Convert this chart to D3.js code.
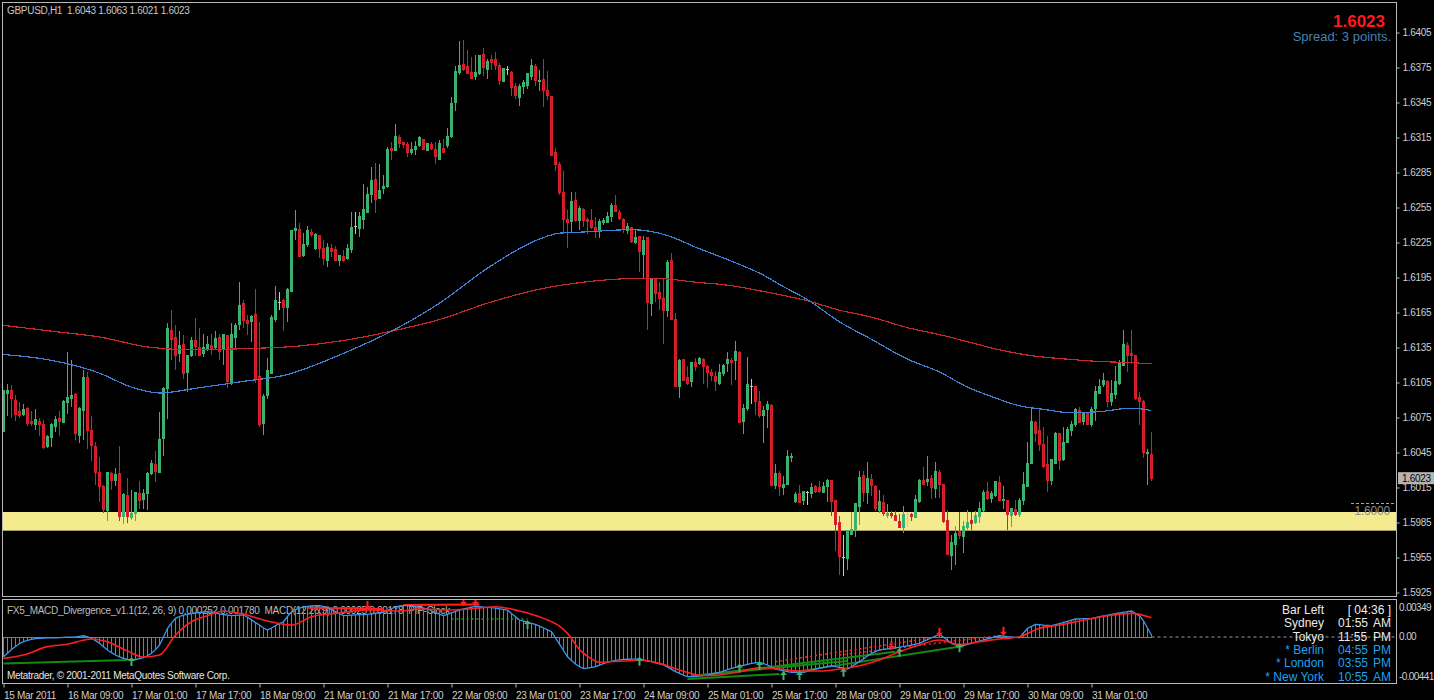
<!DOCTYPE html>
<html>
<head>
<meta charset="utf-8">
<script src="https://cdnjs.cloudflare.com/ajax/libs/d3/7.8.5/d3.min.js"></script>
<style>
  html, body { margin: 0; padding: 0; background: #000; overflow: hidden; }
  svg { display: block; }
  text { font-family: "Liberation Sans", Arial, sans-serif; }
</style>
</head>
<body>
<svg id="chart" width="1434" height="700"></svg>
<script>
// GBPUSD H1, 15 Mar 17:00 .. 31 Mar 16:00. Prices in pips above BASE.
var BASE = 1.5900;

var opens = [
  163,196,198,190,180,178,183,172,169,172,169,150,158,167,174,171,
  188,191,195,160,181,209,164,150,128,116,95,127,121,127,90,108,
  89,93,110,105,110,127,135,128,157,200,250,244,230,238,214,228,
  241,235,230,234,237,235,244,234,245,204,244,255,273,258,257,263,
  210,170,194,213,259,274,275,269,283,335,336,314,323,334,320,331,
  320,310,320,319,310,313,311,319,339,337,345,351,366,379,363,371,
  373,406,404,415,411,409,402,405,408,413,404,409,405,396,406,408,
  416,445,471,478,476,471,467,470,486,473,482,482,477,463,473,471,
  459,449,459,460,467,476,463,465,455,450,402,392,368,345,343,361,
  344,353,345,344,338,335,342,342,347,357,351,345,335,338,325,330,
  315,329,273,294,282,277,267,310,259,202,225,209,206,222,221,225,
  219,214,210,204,213,221,224,224,231,172,183,202,202,189,177,182,
  185,117,127,115,118,141,103,110,104,111,110,116,115,111,116,121,
  104,85,55,54,75,79,99,125,111,122,116,95,102,91,93,91,
  86,81,92,92,89,103,121,120,123,114,128,118,87,57,66,77,
  73,81,87,85,90,95,112,106,108,119,104,104,91,96,92,104,
  116,136,171,164,152,135,121,136,161,139,154,164,169,181,172,179,
  169,183,196,203,206,189,195,204,220,237,230,228,192,189,144,143
];
var highs = [
  199,204,203,194,188,187,184,181,182,175,173,160,170,176,181,190,
  231,224,196,184,216,214,176,154,141,117,128,128,132,151,110,123,
  113,111,121,114,128,139,146,180,201,256,267,254,249,246,228,244,
  260,252,247,245,247,249,247,246,246,256,256,291,276,263,263,285,
  257,195,226,263,288,283,277,286,336,353,342,333,339,337,333,331,
  327,325,324,322,314,319,324,351,351,351,375,373,390,393,392,383,
  407,411,427,417,411,411,411,412,416,414,410,411,411,413,414,423,
  450,476,498,499,490,484,486,486,492,482,486,488,479,475,476,472,
  462,461,464,470,482,478,473,482,472,451,406,394,386,353,368,368,
  356,355,346,354,347,345,346,351,359,366,353,346,342,338,337,331,
  331,330,294,294,291,294,310,316,265,225,225,219,223,226,227,226,
  220,217,215,221,221,231,226,241,232,187,227,208,202,198,185,189,
  187,135,129,125,147,145,111,117,112,112,119,117,121,120,122,121,
  104,91,74,79,94,102,129,129,137,127,117,113,109,101,95,95,
  92,99,94,93,109,122,133,142,126,137,130,118,96,74,82,94,
  86,96,94,95,103,113,120,112,121,125,116,104,97,104,106,128,
  154,183,172,182,167,159,139,163,162,167,167,172,183,184,180,180,
  184,202,208,213,207,207,219,224,250,240,250,228,197,190,148,163
];
var lows = [
  163,176,175,172,175,176,168,168,164,159,148,149,150,163,159,170,
  178,184,156,153,156,148,138,117,103,93,86,113,116,86,84,85,
  87,86,97,97,96,126,120,128,142,174,224,216,223,208,197,227,
  228,228,227,232,229,233,224,220,200,203,235,250,252,246,240,205,
  167,160,191,213,257,267,249,257,283,327,313,313,321,330,319,312,
  306,304,313,309,305,308,310,316,332,330,337,351,359,350,362,367,
  372,396,404,406,406,398,400,400,407,404,404,404,392,396,402,406,
  415,438,469,472,470,466,464,469,468,465,473,473,460,463,469,451,
  448,442,452,457,464,459,455,441,447,399,386,366,332,320,333,343,
  336,338,332,337,329,329,340,342,343,351,344,333,332,325,324,300,
  295,250,262,274,267,238,261,259,201,192,206,203,201,215,220,204,
  200,206,198,203,211,214,203,207,170,161,181,187,177,175,153,166,
  116,114,108,109,117,137,102,102,100,100,106,110,110,110,103,91,
  61,40,39,44,74,73,83,103,101,108,95,93,91,89,89,86,
  80,76,81,86,89,102,117,116,105,106,106,85,58,44,49,71,
  59,79,79,84,85,94,104,102,107,104,97,79,81,91,90,100,
  116,135,154,146,132,111,117,136,130,138,153,159,167,170,169,169,
  167,172,195,201,184,185,191,203,220,214,221,190,169,140,117,121
];
var closes = [
  198,198,191,178,177,182,170,170,173,169,149,159,169,173,172,189,
  192,194,161,183,209,164,151,128,116,96,128,121,126,90,109,90,
  93,111,104,110,127,136,129,156,200,251,242,228,237,213,228,241,
  236,228,235,238,233,243,232,246,206,246,254,271,258,256,262,208,
  169,193,215,261,275,274,269,285,335,337,313,323,335,332,332,320,
  311,321,317,310,314,310,320,338,339,347,353,366,378,362,370,373,
  405,404,416,410,409,402,405,407,415,405,410,406,399,410,402,416,
  444,472,477,473,470,466,471,485,475,480,479,477,464,474,473,458,
  451,459,462,470,477,464,464,455,451,400,392,368,345,342,360,344,
  354,344,343,338,335,343,344,347,357,352,346,336,339,326,329,317,
  327,274,294,281,277,267,308,259,202,224,207,204,222,219,226,219,
  214,211,206,214,220,225,222,232,171,183,203,202,189,177,181,186,
  117,127,116,118,142,142,109,102,112,111,115,112,112,116,121,103,
  83,56,55,78,79,101,124,111,123,117,97,103,93,93,91,87,
  81,92,92,90,105,121,118,122,115,129,118,86,58,68,76,74,
  82,85,84,91,97,111,106,110,120,104,105,92,97,92,104,118,
  136,172,161,152,133,121,139,161,138,154,165,169,182,171,179,169,
  182,197,202,207,189,196,206,221,238,228,228,191,189,145,145,123
];

// moving averages: [bar index, price]
var blueMA = [[0,1.6129],[12,1.6124],[24,1.6113],[32,1.6101],[39,1.6096],[48,1.6100],[60,1.6106],
  [70,1.6111],[85,1.6130],[97,1.6149],[109,1.6173],[121,1.6203],[134,1.6228],[139,1.6233],[145,1.6234],
  [157,1.6236],[166,1.6231],[173,1.6221],[182,1.6209],[190,1.6197],[194,1.6189],[201,1.6176],[209,1.6157],
  [217,1.6142],[226,1.6125],[234,1.6114],[241,1.6101],[247,1.6093],[254,1.6085],[260,1.6082],[267,1.6079],
  [274,1.6080],[282,1.6083],[287,1.6081]];
var redMA = [[0,1.6154],[12,1.6149],[24,1.6144],[37,1.6135],[48,1.6133],[60,1.6134],[73,1.6136],
  [85,1.6141],[97,1.6149],[109,1.6159],[121,1.6173],[134,1.6185],[145,1.6191],[157,1.6194],[164,1.6194],
  [173,1.6191],[182,1.6188],[190,1.6183],[193,1.6181],[201,1.6175],[209,1.6167],[217,1.6161],[226,1.6152],
  [234,1.6146],[241,1.6140],[249,1.6133],[257,1.6128],[266,1.6125],[274,1.6123],[282,1.6122],[287,1.6121]];

// MACD main per bar, in 0.00001
var macd = [
  -219,-180,-140,-105,-75,-52,-38,-27,-19,-14,-12,-10,-9,-8,-6,-4,
  -2,-1,0,7,14,2,-14,-40,-70,-108,-144,-174,-200,-220,-237,-248,
  -256,-250,-241,-230,-208,-181,-140,-89,0,97,155,208,228,244,252,260,
  268,274,278,281,276,268,258,250,243,237,240,243,244,220,190,160,
  133,100,78,100,125,148,170,228,281,305,322,334,340,345,348,349,
  338,326,305,282,258,237,240,244,247,249,250,252,258,264,270,274,
  295,315,332,345,348,349,349,338,328,320,311,292,272,255,237,252,
  268,285,300,312,322,332,340,336,332,329,326,320,313,306,300,262,
  225,189,176,164,152,141,120,100,80,59,-10,-80,-150,-219,-260,-300,
  -330,-350,-345,-338,-330,-312,-296,-280,-270,-260,-254,-248,-247,-246,-245,-244,
  -254,-264,-274,-286,-298,-311,-335,-360,-385,-405,-425,-441,-440,-438,-433,-428,
  -422,-412,-402,-393,-378,-363,-348,-337,-326,-315,-304,-293,-287,-281,-296,-311,
  -334,-356,-366,-375,-384,-393,-393,-393,-393,-381,-368,-356,-347,-338,-328,-319,
  -328,-338,-347,-356,-329,-301,-274,-243,-212,-181,-162,-144,-138,-132,-126,-120,
  -113,-107,-98,-89,-80,-70,-49,-29,-8,11,30,-3,-37,-70,-88,-107,
  -95,-82,-70,-58,-45,-33,-21,-9,3,14,10,5,1,-4,-8,45,
  97,119,141,137,133,130,126,138,150,163,175,188,200,202,204,205,
  207,216,226,235,244,252,259,267,274,282,289,263,235,180,100,20
];
var signal = [[0,-237],[5,-200],[11,-107],[16,-81],[22,-22],[26,-52],[31,-156],[35,-222],[39,-200],
  [43,22],[47,170],[51,237],[55,289],[60,252],[66,178],[72,133],[77,226],[83,263],[91,300],[99,289],
  [104,311],[112,300],[120,326],[123,337],[129,289],[135,207],[139,120],[141,40],[144,-140],[146,-214],
  [149,-280],[155,-267],[159,-259],[164,-293],[169,-367],[175,-430],[179,-422],[185,-378],[189,-341],
  [194,-356],[199,-378],[204,-378],[209,-356],[214,-319],[219,-256],[224,-163],[229,-89],[234,-33],
  [239,-81],[244,-52],[249,-22],[254,3],[259,97],[264,133],[269,178],[276,237],[282,263],[287,215]];

// divergence marks: [bar, value] and [bar1, value1, bar2, value2]
var upArrows = [[32,-222],[131,189],[159,-219],[184,-293],[189,-267],[195,-378],[199,-378],[210,-341],[224,-119],[239,-70]];
var downArrows = [[91,300],[115,345],[118,345],[222,-144],[234,3],[250,14]];
var greenLines = [[0,-293,31,-256],[171,-467,194,-411],[175,-422,223,-163],[197,-393,240,-100],[172,-430,211,-267]];
var redLines = [[76,326,95,311],[100,356,119,360]];
var redDotted = [[193,-274,234,3],[209,-200,250,22]];
var greenDotted = [[112,200,131,200]];

var priceTicks = [1.5925,1.5955,1.5985,1.6015,1.6045,1.6075,1.6105,1.6135,1.6165,1.6195,
  1.6225,1.6255,1.6285,1.6315,1.6345,1.6375,1.6405];
var macdTicks = [0.00349, 0, -0.00441];
var macdTickLabels = ['0.00349', '0.00', '-0.00441'];
var timeTickBars = [0,16,32,48,64,80,96,112,128,144,160,176,192,208,224,240,256,272];
var timeTickLabels = ['15 Mar 2011','16 Mar 09:00','17 Mar 01:00','17 Mar 17:00','18 Mar 09:00',
  '21 Mar 01:00','21 Mar 17:00','22 Mar 09:00','23 Mar 01:00','23 Mar 17:00','24 Mar 09:00',
  '25 Mar 01:00','25 Mar 17:00','28 Mar 09:00','29 Mar 01:00','29 Mar 17:00','30 Mar 09:00','31 Mar 01:00'];

var supportZone = [1.5978, 1.5994];
var roundLevel = 1.6000;
var clockRows = [
  ['Bar Left', '[ 04:36 ]', ''],
  ['Sydney', '01:55', 'AM'],
  ['Tokyo', '11:55', 'PM'],
  ['* Berlin', '04:55', 'PM'],
  ['* London', '03:55', 'PM'],
  ['* New York', '10:55', 'AM']
];

var svg = d3.select('#chart');
var FRAME = '#b8b8b8', AXIS_TXT = '#cfcfcf';
var right = 1396.5;

var last = closes.length - 1;
var x = d3.scaleLinear().domain([0, last]).range([3.5, 3.5 + 4 * last]);
var y = d3.scaleLinear().domain([1.5925, 1.6405]).range([592.5, 32.5]);
var yM = d3.scaleLinear().domain([-0.00441, 0.00349]).range([676.7, 605.6]);

function price(p) { return BASE + p / 10000; }
function mv(v) { return v / 100000; }

var bars = closes.map(function (c, i) {
    return { i: i, o: price(opens[i]), h: price(highs[i]), l: price(lows[i]), c: price(c) };
});

svg.append('rect').attr('width', 1434).attr('height', 700).attr('fill', '#000');

var defs = svg.append('defs');
defs.append('clipPath').attr('id', 'mainClip').append('rect')
    .attr('x', 3).attr('y', 3).attr('width', right - 3.5).attr('height', 593);
defs.append('clipPath').attr('id', 'subClip').append('rect')
    .attr('x', 3).attr('y', 600).attr('width', right - 3.5).attr('height', 83);

drawMain();
drawMacd();
drawAxes();
drawTexts();

function drawMain() {
    var g = svg.append('g').attr('clip-path', 'url(#mainClip)');

    g.append('rect')
        .attr('x', 3).attr('width', right - 3.5)
        .attr('y', y(supportZone[1]))
        .attr('height', y(supportZone[0]) - y(supportZone[1]))
        .attr('fill', '#f4ea8e');

    var candles = g.append('g').attr('shape-rendering', 'crispEdges');
    var sel = candles.selectAll('g.bar').data(bars).enter().append('g').attr('class', 'bar');

    sel.append('line')
        .attr('x1', function (d) { return x(d.i); })
        .attr('x2', function (d) { return x(d.i); })
        .attr('y1', function (d) { return y(d.h); })
        .attr('y2', function (d) { return y(d.l); })
        .attr('stroke', candleColor)
        .attr('stroke-width', 1);

    sel.append('rect')
        .attr('x', function (d) { return x(d.i) - 1; })
        .attr('width', 2)
        .attr('y', function (d) { return y(Math.max(d.o, d.c)); })
        .attr('height', function (d) { return Math.max(0.01, Math.abs(y(d.o) - y(d.c))); })
        .attr('fill', function (d) {
            if (d.c > d.o) return '#22b0a2';
            if (d.c < d.o) return '#c81e2a';
            return '#c8c8c8';
        })
        .attr('stroke', candleColor)
        .attr('stroke-width', 1);

    var line = d3.line()
        .x(function (d) { return x(d[0]); })
        .y(function (d) { return y(d[1]); })
        .curve(d3.curveMonotoneX);

    g.append('path').attr('d', line(redMA))
        .attr('fill', 'none').attr('stroke', '#c62a2c').attr('stroke-width', 1.2)
        .attr('shape-rendering', 'crispEdges');
    g.append('path').attr('d', line(blueMA))
        .attr('fill', 'none').attr('stroke', '#3f80d4').attr('stroke-width', 1.2)
        .attr('shape-rendering', 'crispEdges');

    // round number marker
    svg.append('line')
        .attr('x1', 1351).attr('x2', right)
        .attr('y1', Math.round(y(roundLevel)) - 1.5).attr('y2', Math.round(y(roundLevel)) - 1.5)
        .attr('stroke', '#e0a020').attr('stroke-dasharray', '3,2');
    svg.append('text')
        .attr('x', 1390).attr('y', y(roundLevel) + 10)
        .attr('text-anchor', 'end')
        .attr('font-size', 12).attr('letter-spacing', -0.2)
        .attr('fill', '#8a8a8a')
        .text(roundLevel.toFixed(4));

    function candleColor(d) {
        if (d.c > d.o) return '#3cb371';
        if (d.c < d.o) return '#d8202c';
        return '#c8c8c8';
    }
}

function drawMacd() {
    var g = svg.append('g').attr('clip-path', 'url(#subClip)');
    var zero = yM(0);

    g.append('text')
        .attr('x', 7).attr('y', 614)
        .attr('font-size', 10).attr('letter-spacing', -0.3)
        .attr('fill', '#bdbdbd')
        .attr('xml:space', 'preserve')
        .text('FX5_MACD_Divergence_v1.1(12, 26, 9) 0.000252 0.001780  MACD(12,26,9) 0.00025 0.00178  PIP-Clock');

    g.append('line')
        .attr('x1', x(last)).attr('x2', right)
        .attr('y1', zero).attr('y2', zero)
        .attr('stroke', '#9a9a9a').attr('stroke-dasharray', '3,3');

    var hist = g.append('g').attr('shape-rendering', 'crispEdges');
    hist.append('line')
        .attr('x1', x(0)).attr('x2', x(last))
        .attr('y1', Math.round(zero) + 0.5).attr('y2', Math.round(zero) + 0.5)
        .attr('stroke', '#4a88c8');
    hist.selectAll('line.h').data(macd).enter().append('line')
        .attr('class', 'h')
        .attr('x1', function (d, i) { return x(i); })
        .attr('x2', function (d, i) { return x(i); })
        .attr('y1', zero)
        .attr('y2', function (d) { return yM(mv(d)); })
        .attr('stroke', '#4a88c8');

    var pts = d3.line()
        .x(function (d) { return x(d[0]); })
        .y(function (d) { return yM(mv(d[1])); });

    greenLines.forEach(function (s) {
        g.append('path').attr('d', pts([[s[0], s[1]], [s[2], s[3]]]))
            .attr('stroke', '#128a12').attr('stroke-width', 2).attr('fill', 'none');
    });
    greenDotted.forEach(function (s) {
        g.append('path').attr('d', pts([[s[0], s[1]], [s[2], s[3]]]))
            .attr('stroke', '#1a9a1a').attr('stroke-width', 1.5).attr('stroke-dasharray', '2,3').attr('fill', 'none');
    });
    redDotted.forEach(function (s) {
        g.append('path').attr('d', pts([[s[0], s[1]], [s[2], s[3]]]))
            .attr('stroke', '#ff2222').attr('stroke-width', 1.5).attr('stroke-dasharray', '2,3').attr('fill', 'none');
    });
    redLines.forEach(function (s) {
        g.append('path').attr('d', pts([[s[0], s[1]], [s[2], s[3]]]))
            .attr('stroke', '#ff2222').attr('stroke-width', 2).attr('fill', 'none');
    });

    g.append('path')
        .attr('d', pts(macd.map(function (v, i) { return [i, v]; })))
        .attr('fill', 'none').attr('stroke', '#3a98f0').attr('stroke-width', 1.3);
    g.append('path')
        .attr('d', pts.curve(d3.curveMonotoneX)(signal))
        .attr('fill', 'none').attr('stroke', '#ff1e1e').attr('stroke-width', 1.6);

    g.selectAll('path.up').data(upArrows).enter().append('path')
        .attr('class', 'up')
        .attr('transform', function (d) { return 'translate(' + x(d[0]) + ',' + yM(mv(d[1])) + ')'; })
        .attr('d', 'M0,0L-3.5,4L-1,4L-1,9L1,9L1,4L3.5,4Z')
        .attr('fill', '#3cb371');
    g.selectAll('path.down').data(downArrows).enter().append('path')
        .attr('class', 'down')
        .attr('transform', function (d) { return 'translate(' + x(d[0]) + ',' + yM(mv(d[1])) + ')'; })
        .attr('d', 'M0,0L-3.5,-4L-1,-4L-1,-9L1,-9L1,-4L3.5,-4Z')
        .attr('fill', '#ff2020');

    g.append('text')
        .attr('x', 7).attr('y', 679)
        .attr('font-size', 10).attr('letter-spacing', -0.3)
        .attr('fill', '#e6e6e6')
        .text('Metatrader, \u00a9 2001-2011 MetaQuotes Software Corp.');
}

function drawAxes() {
    svg.append('rect')
        .attr('x', 2.5).attr('y', 2.5).attr('width', right - 2.5).attr('height', 594)
        .attr('fill', 'none').attr('stroke', FRAME);
    svg.append('rect')
        .attr('x', 2.5).attr('y', 599.5).attr('width', right - 2.5).attr('height', 84)
        .attr('fill', 'none').attr('stroke', FRAME);

    var pAxis = svg.append('g')
        .attr('transform', 'translate(' + right + ',0)')
        .call(d3.axisRight(y).tickValues(priceTicks).tickFormat(d3.format('.4f')).tickSize(3).tickPadding(3));
    styleAxis(pAxis);

    var mAxis = svg.append('g')
        .attr('transform', 'translate(' + right + ',0)')
        .call(d3.axisRight(yM).tickValues(macdTicks)
            .tickFormat(function (d, i) { return macdTickLabels[i]; }).tickSize(0).tickPadding(2.5));
    styleAxis(mAxis);
    mAxis.selectAll('text').attr('letter-spacing', -0.6);
    mAxis.selectAll('.tick').attr('transform', function (d) {
        return 'translate(0,' + Math.max(yM(d), 608) + ')';
    });

    var tAxis = svg.append('g')
        .attr('transform', 'translate(0,683.5)')
        .call(d3.axisBottom(x).tickValues(timeTickBars)
            .tickFormat(function (d, i) { return timeTickLabels[i]; }).tickSize(4).tickPadding(4));
    styleAxis(tAxis);
    tAxis.selectAll('text').attr('text-anchor', 'start').attr('x', 0);

    // current price tag
    var cy = y(price(closes[last]));
    svg.append('rect')
        .attr('x', 1398).attr('y', cy - 6).attr('width', 36).attr('height', 12)
        .attr('fill', '#b4b4b4');
    svg.append('text')
        .attr('x', 1402).attr('y', cy + 4)
        .attr('font-size', 10).attr('letter-spacing', -0.3)
        .attr('fill', '#000')
        .text(price(closes[last]).toFixed(4));

    function styleAxis(a) {
        a.select('.domain').remove();
        a.selectAll('line').attr('stroke', FRAME);
        a.selectAll('text')
            .attr('fill', AXIS_TXT)
            .attr('font-size', 10)
            .attr('letter-spacing', -0.3)
            .attr('font-family', '"Liberation Sans", Arial, sans-serif');
    }
}

function drawTexts() {
    var bid = bars[last];
    svg.append('text')
        .attr('x', 7).attr('y', 14)
        .attr('font-size', 10).attr('letter-spacing', -0.3)
        .attr('fill', '#c8c8c8')
        .attr('xml:space', 'preserve')
        .text('GBPUSD,H1  ' + [bid.o, bid.h, bid.l, bid.c].map(function (v) { return v.toFixed(4); }).join(' '));

    svg.append('text')
        .attr('x', 1385).attr('y', 27)
        .attr('text-anchor', 'end')
        .attr('font-size', 17).attr('font-weight', 'bold')
        .attr('fill', '#ff1a1a')
        .text(bid.c.toFixed(4));
    svg.append('text')
        .attr('x', 1391).attr('y', 41)
        .attr('text-anchor', 'end')
        .attr('font-size', 13)
        .attr('fill', '#4682b4')
        .text('Spread: 3 points.');

    var rows = svg.append('g').selectAll('g').data(clockRows).enter().append('g')
        .attr('transform', function (d, i) { return 'translate(0,' + (613.8 + i * 13.4) + ')'; })
        .attr('fill', function (d, i) { return i < 3 ? '#ececec' : '#1fa2f2'; })
        .attr('font-size', 12);
    rows.append('text').attr('x', 1324).attr('text-anchor', 'end').text(function (d) { return d[0]; });
    rows.append('text')
        .attr('x', function (d) { return d[2] ? 1338 : 1391; })
        .attr('text-anchor', function (d) { return d[2] ? 'start' : 'end'; })
        .attr('xml:space', 'preserve')
        .text(function (d) { return d[1]; });
    rows.append('text').attr('x', 1391).attr('text-anchor', 'end').text(function (d) { return d[2]; });
}
</script>
</body>
</html>
